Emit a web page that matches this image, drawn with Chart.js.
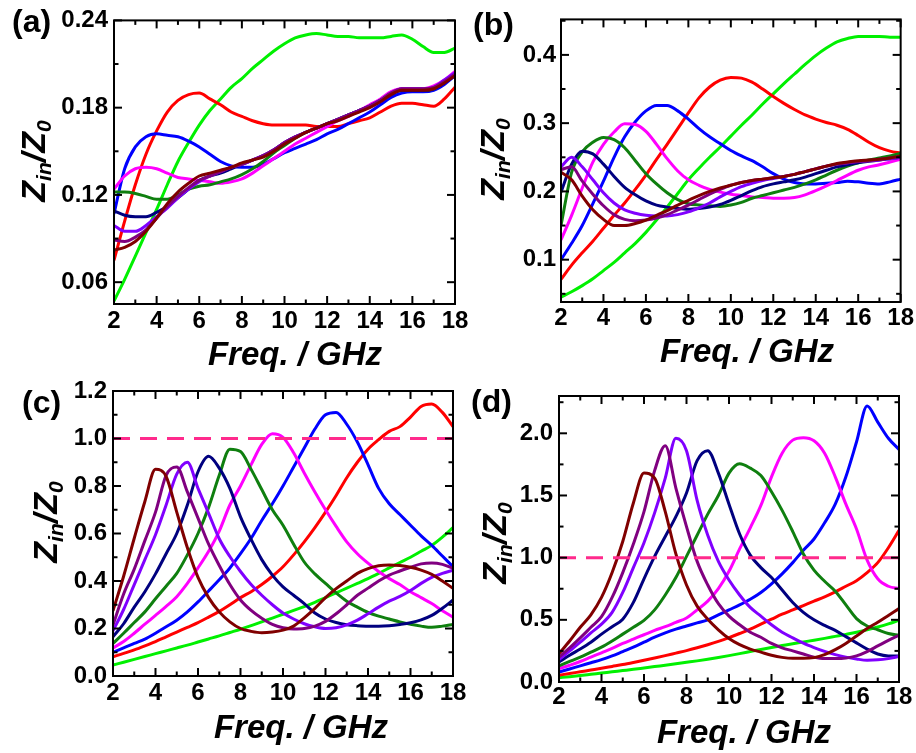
<!DOCTYPE html>
<html><head><meta charset="utf-8">
<script src="https://cdn.jsdelivr.net/npm/chart.js@4/dist/chart.umd.min.js"></script>
<style>
html,body{margin:0;padding:0;background:#fff;}
#wrap{position:relative;width:916px;height:753px;overflow:hidden;background:#fff;}
#wrap canvas{position:absolute;left:0;top:0;}
</style></head><body>
<div id="wrap">
<canvas id="ca" width="916" height="753"></canvas>
<canvas id="cb" width="916" height="753"></canvas>
<canvas id="cc" width="916" height="753"></canvas>
<canvas id="cd" width="916" height="753"></canvas>
</div>
<script>
// ---------- shared categories ----------
const freq = [2,2.5,3,3.5,4,4.5,5,5.5,6,6.5,7,7.5,8,8.5,9,9.5,10,10.5,11,11.5,12,12.5,13,13.5,14,14.5,15,15.5,16,16.5,17,17.5,18];
const xTicks = [2,4,6,8,10,12,14,16,18];
const seriesNames = ['S1','S2','S3','S4','S5','S6','S7','S8','S9'];
const xTitle = 'Freq. / GHz';
const yTitleParts = [['Z',false],['in',true],['/',false],['Z',false],['0',true]];
const refLevel = 1.0;

// ---------- panel (a) ----------
const aLime    = [0.047,0.062,0.078,0.094,0.110,0.127,0.143,0.156,0.168,0.178,0.186,0.194,0.200,0.207,0.213,0.219,0.224,0.228,0.230,0.231,0.230,0.229,0.229,0.228,0.228,0.228,0.229,0.230,0.227,0.222,0.218,0.218,0.221];
const aRed     = [0.075,0.102,0.127,0.148,0.164,0.177,0.185,0.189,0.190,0.186,0.182,0.177,0.174,0.171,0.169,0.168,0.168,0.168,0.168,0.167,0.167,0.167,0.169,0.171,0.173,0.177,0.181,0.183,0.183,0.182,0.181,0.186,0.194];
const aBlue    = [0.107,0.138,0.153,0.160,0.162,0.161,0.160,0.157,0.153,0.148,0.143,0.140,0.139,0.139,0.141,0.145,0.149,0.152,0.155,0.158,0.162,0.165,0.169,0.173,0.177,0.182,0.187,0.190,0.191,0.191,0.192,0.196,0.202];
const aMagenta = [0.124,0.133,0.138,0.139,0.138,0.135,0.132,0.131,0.130,0.129,0.128,0.129,0.131,0.135,0.140,0.145,0.150,0.155,0.159,0.163,0.167,0.171,0.174,0.178,0.182,0.186,0.191,0.193,0.193,0.193,0.195,0.199,0.205];
const aGreen   = [0.122,0.122,0.121,0.119,0.117,0.117,0.120,0.124,0.126,0.127,0.129,0.131,0.134,0.138,0.143,0.149,0.154,0.159,0.163,0.166,0.169,0.172,0.175,0.178,0.181,0.185,0.190,0.192,0.192,0.192,0.193,0.198,0.203];
const aNavy    = [0.109,0.106,0.105,0.105,0.108,0.112,0.118,0.124,0.130,0.133,0.135,0.138,0.141,0.144,0.147,0.151,0.156,0.160,0.163,0.166,0.169,0.172,0.175,0.178,0.181,0.185,0.189,0.192,0.192,0.192,0.193,0.197,0.202];
const aViolet  = [0.099,0.095,0.095,0.099,0.105,0.111,0.118,0.124,0.129,0.133,0.136,0.139,0.141,0.144,0.147,0.151,0.156,0.160,0.163,0.166,0.169,0.172,0.175,0.178,0.181,0.185,0.190,0.193,0.193,0.193,0.194,0.199,0.204];
const aPurple  = [0.089,0.088,0.091,0.096,0.104,0.112,0.119,0.125,0.130,0.133,0.136,0.139,0.141,0.144,0.147,0.151,0.156,0.160,0.163,0.166,0.169,0.172,0.175,0.178,0.181,0.185,0.190,0.193,0.193,0.193,0.194,0.198,0.203];
const aMaroon  = [0.082,0.084,0.088,0.095,0.104,0.114,0.122,0.128,0.133,0.135,0.137,0.139,0.142,0.144,0.146,0.150,0.155,0.159,0.163,0.166,0.169,0.171,0.174,0.177,0.180,0.184,0.189,0.192,0.192,0.192,0.193,0.197,0.202];
const yTicksA = [0.06,0.12,0.18,0.24];

// ---------- panel (b) ----------
const bLime    = [0.045,0.053,0.062,0.072,0.084,0.096,0.110,0.124,0.140,0.158,0.177,0.197,0.217,0.234,0.250,0.265,0.281,0.297,0.312,0.328,0.343,0.358,0.372,0.386,0.399,0.410,0.419,0.424,0.427,0.427,0.427,0.426,0.426];
const bRed     = [0.071,0.092,0.110,0.127,0.146,0.165,0.183,0.203,0.224,0.247,0.269,0.292,0.315,0.337,0.353,0.363,0.367,0.366,0.360,0.350,0.339,0.329,0.320,0.312,0.306,0.301,0.297,0.291,0.282,0.272,0.264,0.259,0.256];
const bBlue    = [0.100,0.124,0.150,0.182,0.215,0.250,0.280,0.302,0.318,0.326,0.326,0.318,0.306,0.292,0.280,0.270,0.260,0.252,0.245,0.236,0.226,0.218,0.213,0.211,0.211,0.212,0.213,0.215,0.214,0.212,0.211,0.214,0.218];
const bMagenta = [0.129,0.165,0.205,0.243,0.269,0.287,0.299,0.298,0.288,0.269,0.248,0.230,0.217,0.209,0.203,0.199,0.196,0.194,0.192,0.191,0.190,0.190,0.191,0.195,0.201,0.208,0.216,0.224,0.231,0.236,0.239,0.243,0.247];
const bGreen   = [0.150,0.228,0.258,0.272,0.279,0.276,0.264,0.245,0.226,0.211,0.198,0.188,0.182,0.180,0.179,0.178,0.180,0.184,0.190,0.194,0.198,0.202,0.206,0.211,0.217,0.224,0.231,0.237,0.242,0.246,0.249,0.252,0.256];
const bNavy    = [0.199,0.240,0.259,0.255,0.240,0.222,0.206,0.195,0.186,0.180,0.177,0.175,0.174,0.175,0.177,0.181,0.187,0.194,0.201,0.207,0.211,0.214,0.217,0.221,0.226,0.231,0.236,0.239,0.242,0.244,0.246,0.248,0.250];
const bViolet  = [0.236,0.250,0.236,0.217,0.198,0.183,0.173,0.168,0.165,0.164,0.164,0.166,0.170,0.176,0.183,0.192,0.200,0.207,0.212,0.216,0.219,0.222,0.225,0.229,0.233,0.237,0.240,0.242,0.244,0.245,0.246,0.248,0.250];
const bPurple  = [0.232,0.236,0.215,0.196,0.179,0.166,0.159,0.157,0.158,0.161,0.166,0.173,0.180,0.188,0.196,0.203,0.209,0.213,0.216,0.218,0.220,0.222,0.225,0.229,0.233,0.237,0.240,0.242,0.244,0.245,0.247,0.249,0.251];
const bMaroon  = [0.228,0.217,0.193,0.173,0.159,0.150,0.150,0.153,0.158,0.165,0.172,0.180,0.187,0.194,0.200,0.205,0.209,0.213,0.216,0.218,0.220,0.222,0.225,0.229,0.233,0.237,0.241,0.243,0.245,0.246,0.247,0.249,0.252];
const yTicksB = [0.1,0.2,0.3,0.4];

// ---------- panel (c) ----------
const cLime    = [0.046,0.058,0.070,0.082,0.094,0.106,0.118,0.130,0.143,0.156,0.169,0.183,0.197,0.212,0.228,0.244,0.260,0.276,0.292,0.310,0.330,0.350,0.370,0.390,0.410,0.432,0.455,0.478,0.500,0.525,0.550,0.585,0.625];
const cRed     = [0.081,0.095,0.110,0.127,0.145,0.165,0.185,0.205,0.225,0.248,0.272,0.300,0.330,0.355,0.385,0.420,0.460,0.510,0.565,0.625,0.690,0.760,0.835,0.900,0.955,0.995,1.030,1.050,1.090,1.135,1.145,1.110,1.050];
const cBlue    = [0.100,0.118,0.137,0.155,0.180,0.207,0.235,0.270,0.312,0.358,0.405,0.455,0.515,0.580,0.655,0.725,0.800,0.880,0.960,1.040,1.100,1.110,1.060,0.985,0.890,0.790,0.725,0.680,0.635,0.590,0.550,0.505,0.460];
const cMagenta = [0.118,0.145,0.180,0.218,0.255,0.293,0.334,0.390,0.455,0.525,0.610,0.720,0.800,0.890,0.975,1.020,1.005,0.940,0.855,0.775,0.700,0.630,0.565,0.515,0.475,0.440,0.410,0.385,0.355,0.330,0.305,0.275,0.248];
const cGreen   = [0.137,0.180,0.225,0.270,0.325,0.378,0.432,0.510,0.600,0.710,0.845,0.955,0.945,0.870,0.785,0.700,0.635,0.555,0.480,0.430,0.390,0.350,0.315,0.290,0.268,0.252,0.240,0.228,0.218,0.210,0.205,0.210,0.217];
const cNavy    = [0.165,0.220,0.290,0.355,0.430,0.515,0.600,0.720,0.860,0.925,0.875,0.790,0.670,0.575,0.490,0.425,0.375,0.340,0.305,0.265,0.240,0.225,0.216,0.212,0.210,0.210,0.212,0.217,0.224,0.236,0.255,0.285,0.320];
const cViolet  = [0.190,0.280,0.385,0.490,0.595,0.720,0.850,0.900,0.790,0.685,0.578,0.503,0.440,0.385,0.340,0.300,0.265,0.240,0.220,0.207,0.200,0.203,0.215,0.235,0.262,0.290,0.315,0.335,0.360,0.390,0.415,0.432,0.445];
const cPurple  = [0.215,0.345,0.450,0.570,0.690,0.845,0.880,0.775,0.665,0.555,0.465,0.385,0.320,0.276,0.243,0.217,0.203,0.198,0.200,0.210,0.230,0.262,0.300,0.340,0.370,0.400,0.425,0.442,0.458,0.472,0.476,0.470,0.453];
const cMaroon  = [0.275,0.420,0.580,0.735,0.870,0.840,0.690,0.540,0.415,0.330,0.270,0.228,0.200,0.188,0.182,0.185,0.193,0.210,0.245,0.285,0.330,0.368,0.400,0.432,0.452,0.464,0.467,0.465,0.458,0.446,0.428,0.400,0.369];
const yTicksC = [0,0.2,0.4,0.6,0.8,1.0,1.2];

// ---------- panel (d) ----------
const dLime    = [0.035,0.043,0.052,0.062,0.072,0.082,0.092,0.102,0.113,0.124,0.135,0.146,0.158,0.170,0.183,0.197,0.212,0.228,0.245,0.262,0.278,0.293,0.308,0.322,0.336,0.351,0.367,0.383,0.400,0.420,0.442,0.467,0.497];
const dRed     = [0.055,0.068,0.082,0.096,0.110,0.125,0.140,0.157,0.175,0.193,0.212,0.232,0.252,0.275,0.300,0.327,0.357,0.390,0.425,0.465,0.505,0.545,0.580,0.615,0.650,0.685,0.725,0.770,0.815,0.880,0.960,1.080,1.220];
const dBlue    = [0.080,0.105,0.130,0.155,0.180,0.210,0.245,0.280,0.320,0.360,0.395,0.425,0.450,0.475,0.500,0.540,0.580,0.620,0.665,0.720,0.790,0.870,0.960,1.060,1.150,1.280,1.430,1.650,1.930,2.220,2.090,1.960,1.870];
const dMagenta = [0.107,0.135,0.165,0.200,0.235,0.270,0.310,0.345,0.380,0.415,0.445,0.480,0.515,0.580,0.650,0.750,0.890,1.070,1.240,1.420,1.650,1.840,1.945,1.965,1.940,1.840,1.650,1.430,1.230,0.980,0.830,0.770,0.752];
const dGreen   = [0.130,0.165,0.200,0.240,0.280,0.330,0.385,0.440,0.495,0.580,0.700,0.840,1.010,1.180,1.350,1.500,1.680,1.755,1.720,1.660,1.530,1.380,1.210,1.030,0.900,0.810,0.730,0.620,0.510,0.450,0.420,0.390,0.376];
const dNavy    = [0.160,0.215,0.265,0.320,0.385,0.445,0.505,0.640,0.830,1.010,1.170,1.330,1.520,1.780,1.860,1.680,1.430,1.190,1.020,0.920,0.840,0.740,0.640,0.560,0.500,0.455,0.415,0.365,0.315,0.265,0.225,0.210,0.210];
const dViolet  = [0.180,0.250,0.320,0.395,0.465,0.560,0.720,0.920,1.120,1.360,1.640,1.960,1.860,1.460,1.180,0.970,0.820,0.700,0.600,0.530,0.460,0.400,0.355,0.312,0.277,0.246,0.220,0.200,0.185,0.175,0.178,0.188,0.205];
const dPurple  = [0.200,0.275,0.355,0.440,0.525,0.680,0.880,1.110,1.370,1.700,1.900,1.560,1.250,0.970,0.780,0.630,0.530,0.460,0.400,0.360,0.310,0.275,0.250,0.225,0.200,0.188,0.188,0.192,0.210,0.245,0.290,0.335,0.376];
const dMaroon  = [0.228,0.330,0.440,0.540,0.680,0.880,1.130,1.440,1.680,1.640,1.370,1.030,0.780,0.610,0.505,0.420,0.350,0.300,0.265,0.240,0.215,0.198,0.190,0.190,0.196,0.220,0.260,0.310,0.370,0.430,0.480,0.535,0.590];
const yTicksD = [0,0.5,1.0,1.5,2.0];

// ---------- styling ----------
const colors = ['#00f000','#ff0000','#0000ff','#ff00ff','#0f7f0f','#00007f','#8000ff','#800080','#800000'];
const refColor = '#ff2a8c';
const FONT = '"Liberation Sans", Arial, Helvetica, sans-serif';
const tickFont = {family: FONT, size: 24, weight: 'bold'};

function makeDatasets(series, withRef) {
  const n = series.length;
  const ds = series.map((vals, i) => ({
    label: seriesNames[i],
    data: vals.map((v, k) => ({x: freq[k], y: v})),
    borderColor: colors[i],
    borderWidth: 3,
    pointRadius: 0,
    fill: false,
    cubicInterpolationMode: 'monotone',
    order: n - i
  }));
  if (withRef) {
    ds.push({
      label: 'Zin/Z0 = 1',
      data: [{x: xTicks[0], y: refLevel}, {x: xTicks[xTicks.length - 1], y: refLevel}],
      borderColor: refColor, borderWidth: 3, borderDash: [17, 10],
      pointRadius: 0, fill: false, order: -1
    });
  }
  return ds;
}

function makeDeco(cfg) {
  return {
    id: 'deco',
    afterDatasetsDraw(chart) {
      const ctx = chart.ctx, ca = chart.chartArea;
      const xs = chart.scales.x, ys = chart.scales.y;
      ctx.save();
      ctx.strokeStyle = '#000';
      ctx.lineWidth = 2;
      ctx.strokeRect(ca.left, ca.top, ca.right - ca.left, ca.bottom - ca.top);
      const seg = (x1, y1, x2, y2) => { ctx.beginPath(); ctx.moveTo(x1, y1); ctx.lineTo(x2, y2); ctx.stroke(); };
      const MAJ = 8, MIN = 4.5;
      // x ticks (both top and bottom, inward)
      xTicks.forEach(v => { const p = xs.getPixelForValue(v); seg(p, ca.bottom, p, ca.bottom - MAJ); seg(p, ca.top, p, ca.top + MAJ); });
      for (let i = 1; i < xTicks.length; i++) {
        const p = xs.getPixelForValue((xTicks[i] + xTicks[i - 1]) / 2);
        seg(p, ca.bottom, p, ca.bottom - MIN); seg(p, ca.top, p, ca.top + MIN);
      }
      // y ticks (left and right, inward)
      const yt = cfg.yTicks, step = yt[1] - yt[0];
      yt.forEach(v => { const p = ys.getPixelForValue(v); seg(ca.left, p, ca.left + MAJ, p); seg(ca.right, p, ca.right - MAJ, p); });
      for (let v = yt[0] - step / 2; v <= cfg.yMax + 1e-9; v += step) {
        if (v < cfg.yMin) continue;
        const p = ys.getPixelForValue(v);
        seg(ca.left, p, ca.left + MIN, p); seg(ca.right, p, ca.right - MIN, p);
      }
      // x title
      ctx.fillStyle = '#000';
      ctx.font = 'italic bold 33px ' + FONT;
      ctx.textAlign = 'center';
      ctx.textBaseline = 'alphabetic';
      ctx.fillText(xTitle, cfg.xTitleAt[0], cfg.xTitleAt[1]);
      // y title (rotated, with subscripts)
      ctx.save();
      ctx.translate(cfg.yTitleAt[0], cfg.yTitleAt[1]);
      ctx.rotate(-Math.PI / 2);
      ctx.textAlign = 'left';
      const big = 'italic bold 34px ' + FONT, small = 'italic bold 21px ' + FONT;
      let total = 0;
      yTitleParts.forEach(([t, sub]) => { ctx.font = sub ? small : big; total += ctx.measureText(t).width; });
      let cx = -total / 2;
      yTitleParts.forEach(([t, sub]) => {
        ctx.font = sub ? small : big;
        ctx.fillText(t, cx, sub ? 6 : 0);
        cx += ctx.measureText(t).width;
      });
      ctx.restore();
      // panel label
      ctx.font = 'bold 32px ' + FONT;
      ctx.textAlign = 'left';
      ctx.fillText(cfg.label, cfg.labelAt[0], cfg.labelAt[1]);
      ctx.restore();
    }
  };
}

function makeChart(id, cfg) {
  const yw = 80, xh = 50, a = cfg.area;
  return new Chart(document.getElementById(id), {
    type: 'line',
    data: {datasets: makeDatasets(cfg.series, cfg.ref)},
    options: {
      responsive: false, animation: false, devicePixelRatio: 1,
      layout: {padding: {left: a.l - yw, right: 916 - a.r, top: a.t, bottom: 753 - a.b - xh}},
      plugins: {legend: {display: false}, tooltip: {enabled: false}},
      scales: {
        x: {
          type: 'linear', min: xTicks[0], max: xTicks[xTicks.length - 1],
          grid: {display: false, drawTicks: false}, border: {display: false},
          afterFit: s => { s.height = xh; },
          afterBuildTicks: s => { s.ticks = xTicks.map(v => ({value: v})); },
          ticks: {autoSkip: false, maxRotation: 0, minRotation: 0, padding: cfg.xPad, color: '#000', font: tickFont,
                  callback: v => String(v)}
        },
        y: {
          type: 'linear', min: cfg.yMin, max: cfg.yMax,
          grid: {display: false, drawTicks: false}, border: {display: false},
          afterFit: s => { s.width = yw; },
          afterBuildTicks: s => { s.ticks = cfg.yTicks.map(v => ({value: v})); },
          ticks: {autoSkip: false, padding: cfg.yPad, color: '#000', font: tickFont,
                  callback: v => Number(v).toFixed(cfg.dec)}
        }
      }
    },
    plugins: [makeDeco(cfg)]
  });
}

makeChart('ca', {
  series: [aLime, aRed, aBlue, aMagenta, aGreen, aNavy, aViolet, aPurple, aMaroon], ref: false,
  area: {l: 114, r: 455, t: 18, b: 304}, yMin: 0.045, yMax: 0.24, yTicks: yTicksA, dec: 2,
  xPad: 3, yPad: 6, xTitleAt: [295, 365], yTitleAt: [45, 161], label: '(a)', labelAt: [12, 32]
});
makeChart('cb', {
  series: [bLime, bRed, bBlue, bMagenta, bGreen, bNavy, bViolet, bPurple, bMaroon], ref: false,
  area: {l: 561, r: 903, t: 15, b: 302}, yMin: 0.038, yMax: 0.452, yTicks: yTicksB, dec: 1,
  xPad: 2, yPad: 5, xTitleAt: [747, 362], yTitleAt: [504, 159], label: '(b)', labelAt: [473, 35]
});
makeChart('cc', {
  series: [cLime, cRed, cBlue, cMagenta, cGreen, cNavy, cViolet, cPurple, cMaroon], ref: true,
  area: {l: 113, r: 453, t: 391, b: 676}, yMin: 0, yMax: 1.2, yTicks: yTicksC, dec: 1,
  xPad: 3, yPad: 6, xTitleAt: [301, 738], yTitleAt: [57, 522], label: '(c)', labelAt: [22, 413]
});
makeChart('cd', {
  series: [dLime, dRed, dBlue, dMagenta, dGreen, dNavy, dViolet, dPurple, dMaroon], ref: true,
  area: {l: 559, r: 899, t: 396, b: 682}, yMin: 0, yMax: 2.3, yTicks: yTicksD, dec: 1,
  xPad: 1, yPad: 6, xTitleAt: [744, 743], yTitleAt: [506, 543], label: '(d)', labelAt: [471, 412]
});
</script>
</body></html>
